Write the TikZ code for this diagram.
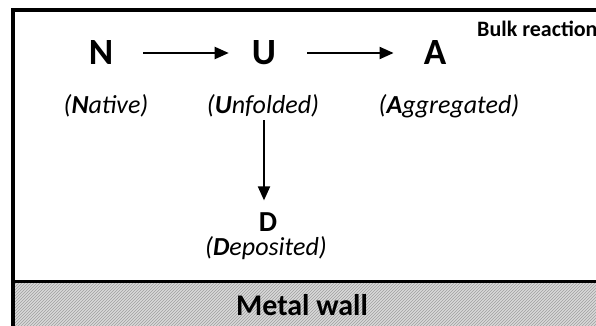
\documentclass[tikz,border=0pt]{standalone}
\usepackage{fontspec}
\setmainfont{Carlito}
\usetikzlibrary{arrows.meta,positioning,patterns}

\begin{document}
\begin{tikzpicture}[x=1pt, y=-1pt,
  species/.style={inner sep=0pt, font=\fontsize{37}{37}\selectfont\bfseries},
  deposit/.style={inner sep=0pt, font=\fontsize{29}{29}\selectfont\bfseries},
  label/.style={inner sep=0pt, font=\fontsize{26}{26}\selectfont\itshape},
  title/.style={inner sep=0pt, anchor=west, font=\fontsize{22}{22}\selectfont\bfseries},
  walltext/.style={inner sep=0pt, font=\fontsize{30}{30}\selectfont\bfseries},
  arr/.style={-{Triangle[length=14pt,width=12pt]}, line width=2pt},
  border/.style={line width=4pt}
]
\useasboundingbox (0,0) rectangle (596,326);

% wall
\fill[gray!30] (13,282) rectangle (600,330);
\fill[pattern=north east lines, pattern color=gray!75] (13,282) rectangle (600,330);
\draw[border] (13,330) |- (600,10);
\draw[line width=3pt] (13,281) -- (600,281);

% species
\node[species] (n) at (101,53) {N};
\node[species] (u) at (264,53) {U};
\node[species] (a) at (435,53) {A};
\node[deposit] (d) at (268,222) {D};

\node[label] (nlab) at (106,106) {(\textbf{N}ative)};
\node[label] (ulab) at (263,106) {(\textbf{U}nfolded)};
\node[label] (alab) at (449,106) {(\textbf{A}ggregated)};
\node[label] (dlab) at (266,248) {(\textbf{D}eposited)};

\node[title] (bulk) at (477,29) {Bulk reaction};
\node[walltext] (wall) at (302,305) {Metal wall};

% reactions
\draw[arr, shorten <=30pt, shorten >=23pt] (n) -- (u);
\draw[arr, shorten <=31pt, shorten >=30pt] (u) -- (a);
\draw[arr, shorten <=3pt, shorten >=12pt] (ulab.south -| u) -- (d.north -| u);

\end{tikzpicture}
\end{document}
